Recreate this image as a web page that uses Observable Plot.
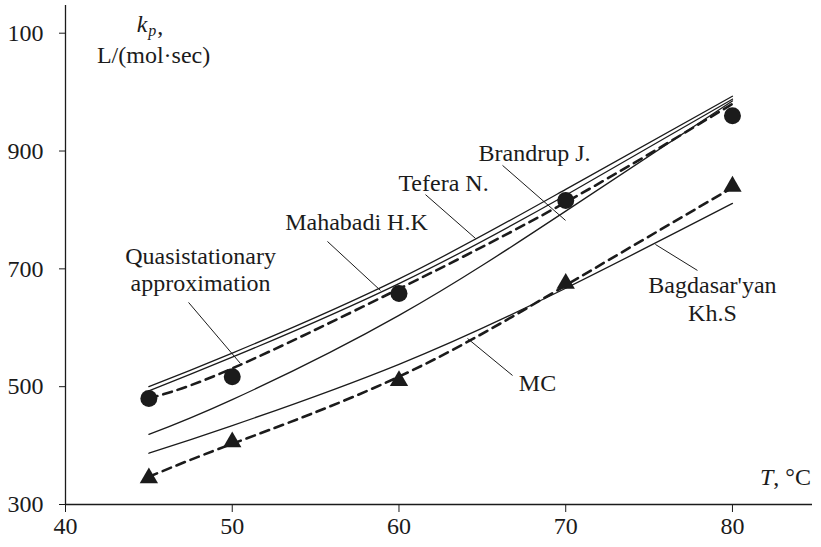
<!DOCTYPE html>
<html><head><meta charset="utf-8">
<script src="https://cdn.jsdelivr.net/npm/d3@7"></script>
<script src="https://cdn.jsdelivr.net/npm/@observablehq/plot@0.6"></script>
<style>
body{margin:0;background:#fff}
</style>
</head><body><div id="chart"></div>
<script>
// Temperatures, °C
const temps = [45, 50, 60, 70, 80];
// Experimental points
const expCircles   = [480, 517, 658, 816, 960];
const expTriangles = [345, 406, 510, 675, 840];
// Dashed model curves
const quasi = [480, 531, 666, 813, 980];
const mc    = [347, 403, 517, 672, 838];
// Solid literature curves
const tefera      = [500, 557, 683, 835, 993];
const mahabadi    = [493, 550, 675, 825, 988];
const brandrup    = [419, 478, 621, 798, 985];
const bagdasaryan = [387, 434, 538, 667, 811];
// Axis ticks
const xTicks = [40, 50, 60, 70, 80];
const yTicks = [300, 500, 700, 900, 1100];
const yTickLabels = ["300", "500", "700", "900", "100"];

// Curve labels (text, anchor point T, k) and leader lines
const labelNames = ["Quasistationary", "approximation", "Mahabadi H.K", "Tefera N.", "Brandrup J.", "Bagdasar'yan", "Kh.S", "MC"];
const labelT = [48.1, 48.1, 57.45, 62.67, 68.13, 78.8, 78.8, 68.31];
const labelK = [722, 676, 779, 845, 896, 672, 624, 505];
const leaderT1 = [47.38, 55.71, 61.59, 66.21, 77.90, 66.81];
const leaderK1 = [643, 746.5, 826, 875.6, 697.3, 519];
const leaderT2 = [50.49, 58.89, 64.59, 69.99, 75.38, 64.11];
const leaderK2 = [539.4, 663.3, 751.6, 782.2, 741.4, 581.8];

const solid = [["Tefera", tefera], ["Mahabadi", mahabadi], ["Brandrup", brandrup], ["Bagdasaryan", bagdasaryan]]
  .flatMap(([s, vals]) => temps.map((t, i) => ({series: s, t, k: vals[i]})));
const dashed = [["Quasi", quasi], ["MC", mc]]
  .flatMap(([s, vals]) => temps.map((t, i) => ({series: s, t, k: vals[i]})));
const circles = temps.map((t, i) => ({t, k: expCircles[i]}));
const triangles = temps.map((t, i) => ({t, k: expTriangles[i]}));
const labels = labelNames.map((name, i) => ({name, t: labelT[i], k: labelK[i]}));
const leaders = leaderT1.map((t1, i) => ({t1, k1: leaderK1[i], t2: leaderT2[i], k2: leaderK2[i]}));

const ink = "#1b1b1b";
const serif = "Liberation Serif";
const fs = 24;
const chart = Plot.plot({
  width: 821, height: 547,
  marginLeft: 65, marginRight: 9, marginTop: 5, marginBottom: 43,
  style: {fontSize: fs + "px", color: ink, background: "#fff", overflow: "visible"},
  x: {domain: [40, 84.8], label: null},
  y: {domain: [300, 1147], label: null},
  marks: [
    Plot.axisX({ticks: xTicks, tickSize: 8, tickPadding: 4, fontSize: fs, label: null, stroke: ink}),
    Plot.axisY({ticks: yTicks, tickSize: 6, tickPadding: 16, fontSize: fs, label: null, stroke: ink,
      tickFormat: d => yTickLabels[yTicks.indexOf(d)]}),
    Plot.ruleX([40], {stroke: ink, strokeWidth: 1.3}),
    Plot.ruleY([300], {stroke: ink, strokeWidth: 1.3}),
    Plot.line(solid, {x: "t", y: "k", z: "series", curve: "natural", stroke: ink, strokeWidth: 1.3}),
    Plot.line(dashed, {x: "t", y: "k", z: "series", curve: "natural", stroke: ink, strokeWidth: 2.6, strokeDasharray: "9,6"}),
    Plot.dot(circles, {x: "t", y: "k", r: 8.5, fill: ink, stroke: "none"}),
    Plot.dot(triangles, {x: "t", y: "k", symbol: "triangle", r: 6.8, fill: ink, stroke: "none"}),
    Plot.link(leaders, {x1: "t1", y1: "k1", x2: "t2", y2: "k2", stroke: ink, strokeWidth: 1}),
    Plot.text(labels, {x: "t", y: "k", text: "name", fontSize: fs, fill: ink, textAnchor: "middle"}),
    // y-axis title: k_p, L/(mol·sec)
    Plot.text(["k"], {x: 44.6, y: 1115, text: d => d, fontSize: fs, fontStyle: "italic", fill: ink, textAnchor: "middle"}),
    Plot.text(["p"], {x: 45.2, y: 1104, text: d => d, fontSize: 16, fontStyle: "italic", fill: ink, textAnchor: "middle"}),
    Plot.text([","], {x: 45.5, y: 1112, text: d => d, fontSize: fs, fill: ink, textAnchor: "start"}),
    Plot.text(["L/(mol·sec)"], {x: 45.28, y: 1062, text: d => d, fontSize: fs, fill: ink, textAnchor: "middle"}),
    // x-axis title: T, °C
    Plot.text(["T"], {x: 82.45, y: 346, text: d => d, fontSize: fs, fontStyle: "italic", fill: ink, textAnchor: "end"}),
    Plot.text([", °C"], {x: 82.45, y: 346, text: d => d, fontSize: fs, fill: ink, textAnchor: "start"})
  ]
});
chart.setAttribute("font-family", serif);
chart.style.fontFamily = "'" + serif + "'";
chart.querySelectorAll("g, text").forEach(el => {
  el.setAttribute("font-family", serif);
  el.style.fontFamily = "'" + serif + "'";
});
document.getElementById("chart").appendChild(chart);
</script>
</body></html>
